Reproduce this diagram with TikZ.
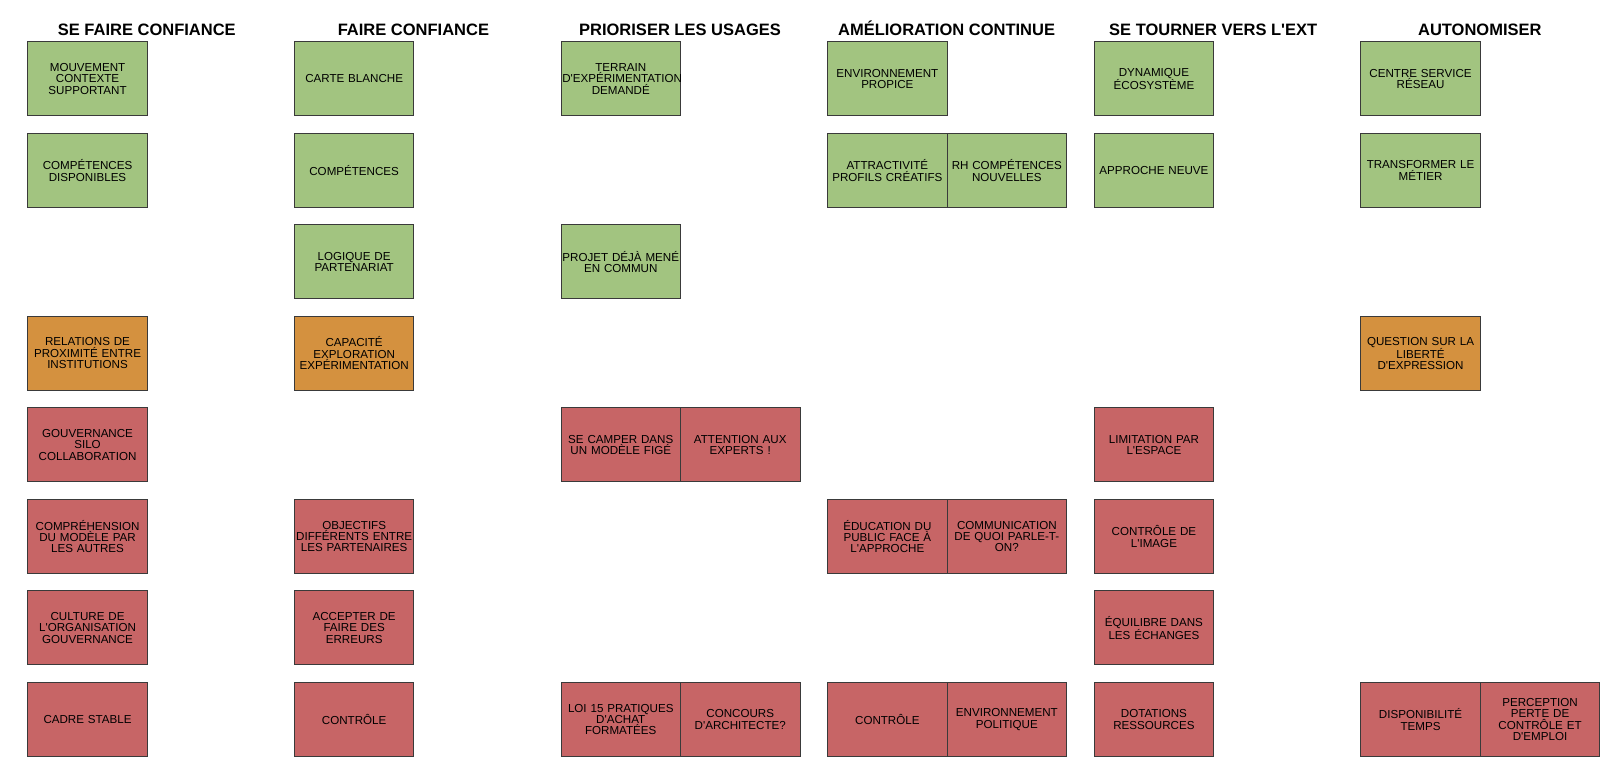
\documentclass[tikz,border=0pt]{standalone}
\usepackage{fontspec}
\newfontfamily\arialf{Liberation Sans}
\definecolor{cgreen}{HTML}{A2C480}
\definecolor{corange}{HTML}{D4913F}
\definecolor{cred}{HTML}{C76566}
\definecolor{cedge}{HTML}{3A3A3A}
\tikzset{
  box/.style={draw=cedge, line width=1pt, minimum width=119.5pt, minimum height=74pt,
    text width=117pt, align=center, inner sep=0pt, anchor=north west,
    font=\arialf\fontsize{11.6}{11.4}\selectfont},
  gbox/.style={box, fill=cgreen},
  obox/.style={box, fill=corange},
  rbox/.style={box, fill=cred},
  title/.style={anchor=base, inner sep=0pt, font=\arialf\bfseries\fontsize{16.5}{18}\selectfont}
}
\newcommand\bx[6]{\node[#5] (#1) at ({27.3+266.6*#2+119.5*#4},{41.3+91.53*#3}) {#6};}
\newcommand\ttl[3]{\node[title] (#1) at ({27.3+266.6*#2+119.5},36) {#3};}
\begin{document}
\begin{tikzpicture}[x=1pt,y=-1pt]
\useasboundingbox (0,0) rectangle (1614,768);
\fill[white] (0,0) rectangle (1614,768);
% titles
\ttl{t0}{0}{SE FAIRE CONFIANCE}
\ttl{t1}{1}{FAIRE CONFIANCE}
\ttl{t2}{2}{PRIORISER LES USAGES}
\ttl{t3}{3}{AMÉLIORATION CONTINUE}
\ttl{t4}{4}{SE TOURNER VERS L'EXT}
\ttl{t5}{5}{AUTONOMISER}
% column 0
\bx{a0}{0}{0}{0}{gbox}{MOUVEMENT\\CONTEXTE\\SUPPORTANT}
\bx{a1}{0}{1}{0}{gbox}{COMPÉTENCES\\DISPONIBLES}
\bx{a3}{0}{3}{0}{obox}{RELATIONS DE\\PROXIMITÉ ENTRE\\INSTITUTIONS}
\bx{a4}{0}{4}{0}{rbox}{GOUVERNANCE\\SILO\\COLLABORATION}
\bx{a5}{0}{5}{0}{rbox}{COMPRÉHENSION\\DU MODÈLE PAR\\LES AUTRES}
\bx{a6}{0}{6}{0}{rbox}{CULTURE DE\\L'ORGANISATION\\GOUVERNANCE}
\bx{a7}{0}{7}{0}{rbox}{CADRE STABLE}
% column 1
\bx{b0}{1}{0}{0}{gbox}{CARTE BLANCHE}
\bx{b1}{1}{1}{0}{gbox}{COMPÉTENCES}
\bx{b2}{1}{2}{0}{gbox}{LOGIQUE DE\\PARTENARIAT}
\bx{b3}{1}{3}{0}{obox}{CAPACITÉ\\EXPLORATION\\EXPÉRIMENTATION}
\bx{b5}{1}{5}{0}{rbox}{OBJECTIFS\\DIFFÉRENTS ENTRE\\LES PARTENAIRES}
\bx{b6}{1}{6}{0}{rbox}{ACCEPTER DE\\FAIRE DES\\ERREURS}
\bx{b7}{1}{7}{0}{rbox}{CONTRÔLE}
% column 2
\bx{c0}{2}{0}{0}{gbox}{TERRAIN\\D'EXPÉRIMENTATION\\DEMANDÉ}
\bx{c2}{2}{2}{0}{gbox}{PROJET DÉJÀ MENÉ\\EN COMMUN}
\bx{c4}{2}{4}{0}{rbox}{SE CAMPER DANS\\UN MODÈLE FIGÉ}
\bx{c4b}{2}{4}{1}{rbox}{ATTENTION AUX\\EXPERTS !}
\bx{c7}{2}{7}{0}{rbox}{LOI 15 PRATIQUES\\D'ACHAT\\FORMATÉES}
\bx{c7b}{2}{7}{1}{rbox}{CONCOURS\\D'ARCHITECTE?}
% column 3
\bx{d0}{3}{0}{0}{gbox}{ENVIRONNEMENT\\PROPICE}
\bx{d1}{3}{1}{0}{gbox}{ATTRACTIVITÉ\\PROFILS CRÉATIFS}
\bx{d1b}{3}{1}{1}{gbox}{RH COMPÉTENCES\\NOUVELLES}
\bx{d5}{3}{5}{0}{rbox}{ÉDUCATION DU\\PUBLIC FACE À\\L'APPROCHE}
\bx{d5b}{3}{5}{1}{rbox}{COMMUNICATION\\DE QUOI PARLE-T-\\ON?}
\bx{d7}{3}{7}{0}{rbox}{CONTRÔLE}
\bx{d7b}{3}{7}{1}{rbox}{ENVIRONNEMENT\\POLITIQUE}
% column 4
\bx{e0}{4}{0}{0}{gbox}{DYNAMIQUE\\ÉCOSYSTÈME}
\bx{e1}{4}{1}{0}{gbox}{APPROCHE NEUVE}
\bx{e4}{4}{4}{0}{rbox}{LIMITATION PAR\\L'ESPACE}
\bx{e5}{4}{5}{0}{rbox}{CONTRÔLE DE\\L'IMAGE}
\bx{e6}{4}{6}{0}{rbox}{ÉQUILIBRE DANS\\LES ÉCHANGES}
\bx{e7}{4}{7}{0}{rbox}{DOTATIONS\\RESSOURCES}
% column 5
\bx{f0}{5}{0}{0}{gbox}{CENTRE SERVICE\\RÉSEAU}
\bx{f1}{5}{1}{0}{gbox}{TRANSFORMER LE\\MÉTIER}
\bx{f3}{5}{3}{0}{obox}{QUESTION SUR LA\\LIBERTÉ\\D'EXPRESSION}
\bx{f7}{5}{7}{0}{rbox}{DISPONIBILITÉ\\TEMPS}
\bx{f7b}{5}{7}{1}{rbox}{PERCEPTION\\PERTE DE\\CONTRÔLE ET\\D'EMPLOI}
\end{tikzpicture}
\end{document}
